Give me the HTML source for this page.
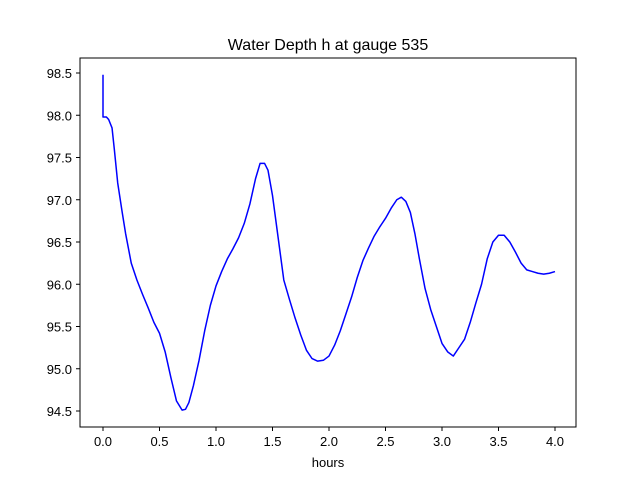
<!DOCTYPE html>
<html><head><meta charset="utf-8"><style>
body{margin:0;background:#fff;}
svg{display:block;font-family:"Liberation Sans","DejaVu Sans",sans-serif;}
</style></head><body>
<svg id="chart" width="640" height="480">
<rect x="0" y="0" width="640" height="480" fill="#fff"/>
<text x="328" y="50" font-size="16" text-anchor="middle">Water Depth h at gauge 535</text>
<g id="plot"></g>
<rect x="80" y="58" width="496" height="369" fill="none" stroke="#000" stroke-width="1"/>
<text x="328" y="467" font-size="13" text-anchor="middle">hours</text>
</svg>
<script>
const hours=[0,0,0.03,0.05,0.08,0.1,0.13,0.17,0.2,0.25,0.3,0.35,0.4,0.45,0.5,0.55,0.6,0.65,0.7,0.73,0.76,0.8,0.85,0.9,0.95,1.0,1.05,1.1,1.15,1.2,1.25,1.3,1.35,1.39,1.43,1.46,1.5,1.55,1.6,1.65,1.7,1.75,1.8,1.85,1.9,1.95,2.0,2.05,2.1,2.15,2.2,2.25,2.3,2.35,2.4,2.45,2.5,2.55,2.6,2.64,2.68,2.72,2.76,2.8,2.85,2.9,2.95,3.0,3.05,3.1,3.15,3.2,3.25,3.3,3.35,3.4,3.45,3.5,3.55,3.6,3.65,3.7,3.75,3.8,3.85,3.9,3.95,4.0];
const depth=[98.48,97.98,97.98,97.95,97.85,97.6,97.2,96.85,96.6,96.25,96.05,95.88,95.72,95.55,95.42,95.2,94.9,94.62,94.51,94.52,94.6,94.8,95.1,95.45,95.75,95.98,96.15,96.3,96.42,96.55,96.72,96.95,97.25,97.43,97.43,97.35,97.05,96.55,96.05,95.82,95.6,95.4,95.22,95.12,95.09,95.1,95.15,95.28,95.45,95.65,95.85,96.08,96.28,96.43,96.57,96.68,96.78,96.9,97.0,97.03,96.98,96.85,96.6,96.3,95.95,95.7,95.5,95.3,95.2,95.15,95.25,95.35,95.55,95.78,96.0,96.3,96.5,96.58,96.58,96.5,96.38,96.25,96.17,96.15,96.13,96.12,96.13,96.15];
const xTicks=[0,0.5,1,1.5,2,2.5,3,3.5,4];
const yTicks=[94.5,95,95.5,96,96.5,97,97.5,98,98.5];
const NS="http://www.w3.org/2000/svg";
const xs=v=>103+v*113;
const ys=v=>73+(98.5-v)*84.5;
const g=document.getElementById('plot');
function mk(t,a){const e=document.createElementNS(NS,t);for(const k in a)e.setAttribute(k,a[k]);g.appendChild(e);return e;}
xTicks.forEach(t=>{
  const l=mk('line',{x1:xs(t),x2:xs(t),y1:427,y2:431,stroke:'#000'});
  
  
  const tx=mk('text',{x:xs(t),y:446,'font-size':13,'text-anchor':'middle'});
  tx.textContent=t.toFixed(1);
  
  
});
yTicks.forEach(t=>{
  const l=mk('line',{x1:76,x2:80,y1:ys(t),y2:ys(t),stroke:'#000'});
  
  
  const tx=mk('text',{x:72,y:ys(t)+5,'font-size':13,'text-anchor':'end'});
  tx.textContent=t.toFixed(1);
  
  
});
const p=mk('polyline',{points:hours.map((h,i)=>xs(h)+','+ys(depth[i])).join(' '),fill:'none',stroke:'#0000ff','stroke-width':1.5,'stroke-linejoin':'round'});


</script>
</body></html>
